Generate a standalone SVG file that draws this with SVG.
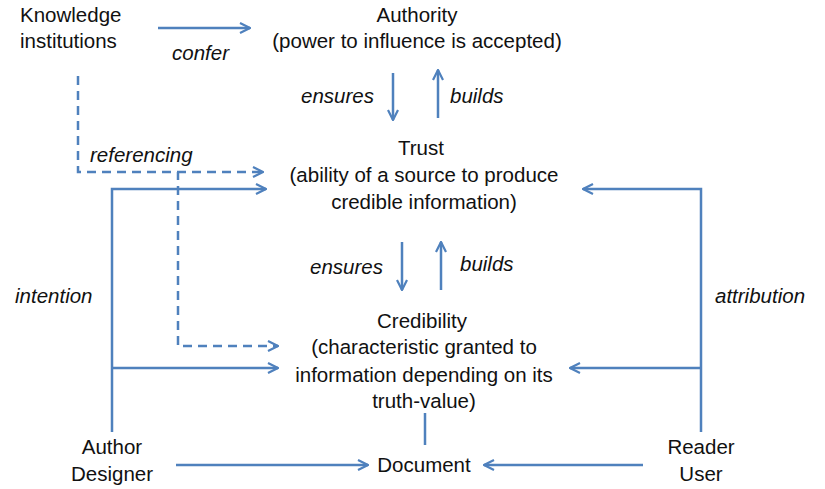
<svg xmlns="http://www.w3.org/2000/svg" width="825" height="489" viewBox="0 0 825 489">
<defs>
<marker id="arr" viewBox="0 0 12 12" refX="11" refY="6" markerWidth="12" markerHeight="12" markerUnits="userSpaceOnUse" orient="auto">
<path d="M1,1 L11,6 L1,11" fill="none" stroke="#4F81BD" stroke-width="2.2"/>
</marker>
</defs>
<style>
text{font-family:"Liberation Sans",Arial,sans-serif;font-size:20.5px;fill:#111}
.c{text-anchor:middle}
.i{font-style:italic}
.ln{fill:none;stroke:#4F81BD;stroke-width:2.5}
.a{marker-end:url(#arr)}
.d{stroke-dasharray:9,6}
</style>
<rect width="825" height="489" fill="#fff"/>
<g id="connectors">
<path class="ln a" d="M158,28 H250"/>
<path class="ln a" d="M393,73 V120"/>
<path class="ln a" d="M438,118 V70"/>
<path class="ln a d" d="M78,76 V172 H263"/>
<path class="ln" d="M178,172 V180"/>
<path class="ln a d" d="M178,186 V346 H278"/>
<path class="ln a" d="M112,432 V189 H266"/>
<path class="ln a" d="M112,368 H278"/>
<path class="ln a" d="M402,242 V290"/>
<path class="ln a" d="M441,290 V242"/>
<path class="ln" d="M425,413 V445"/>
<path class="ln a" d="M701,432 V189 H583"/>
<path class="ln a" d="M701,368 H570"/>
<path class="ln a" d="M176,465 H368"/>
<path class="ln a" d="M643,465 H484"/>
</g>
<g id="knowledge"><text x="20" y="22">Knowledge</text><text x="20" y="48">institutions</text></g>
<g id="authority"><text class="c" x="417" y="22">Authority</text><text class="c" x="417" y="48">(power to influence is accepted)</text></g>
<g id="trust"><text class="c" x="421" y="155">Trust</text><text class="c" x="424" y="182">(ability of a source to produce</text><text class="c" x="424" y="209">credible information)</text></g>
<g id="credibility"><text class="c" x="422" y="328">Credibility</text><text class="c" x="424" y="354">(characteristic granted to</text><text class="c" x="424" y="382">information depending on its</text><text class="c" x="424" y="408">truth-value)</text></g>
<g id="author"><text class="c" x="112" y="454">Author</text><text class="c" x="112" y="481">Designer</text></g>
<g id="reader"><text class="c" x="701" y="454">Reader</text><text class="c" x="701" y="481">User</text></g>
<g id="document"><text class="c" x="424" y="472">Document</text></g>
<g id="labels">
<text class="i" x="172" y="60">confer</text>
<text class="i" x="301" y="103">ensures</text>
<text class="i" x="450" y="103">builds</text>
<text class="i" x="90" y="162">referencing</text>
<text class="i" x="310" y="274">ensures</text>
<text class="i" x="460" y="271">builds</text>
<text class="i" x="15" y="303">intention</text>
<text class="i" x="715" y="303">attribution</text>
</g>
</svg>
